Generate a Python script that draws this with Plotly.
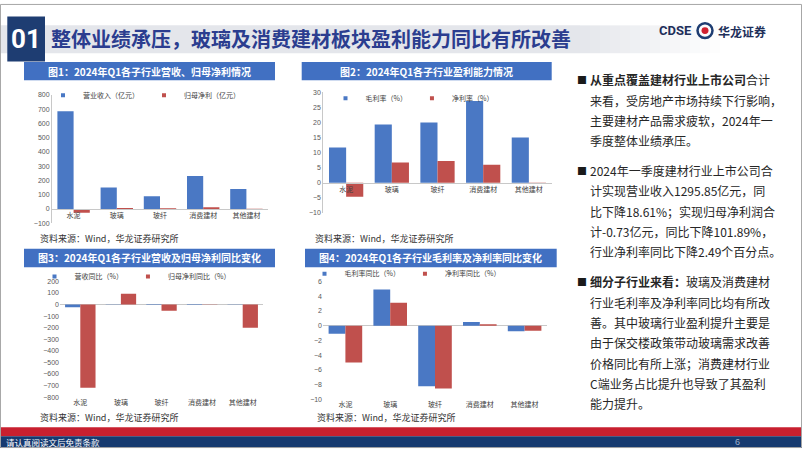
import plotly.graph_objects as go

W, H = 802, 451


def X(px):
    return px / W


def Y(py):
    return 1 - py / H


# ---------------- data ----------------
categories = ["水泥", "玻璃", "玻纤", "消费建材", "其他建材"]
revenue = [685, 150, 90, 232, 140]          # 营业收入（亿元）
net_profit = [-27, 7.5, 4.5, 12, 2.3]       # 归母净利（亿元）
gross_margin = [11.7, 19.3, 20.0, 27.1, 15.0]  # 毛利率（%）
net_margin = [-4.6, 6.7, 7.2, 6.0, -0.3]       # 净利率（%）
revenue_yoy = [-24, 2, -5, -4, -3]             # 营收同比（%）
profit_yoy = [-720, 93, -54, -3, -201]         # 归母净利同比（%）
gm_yoy = [-1.1, 4.9, -8.2, 0.5, -0.75]         # 毛利率同比（%）
nm_yoy = [-5.0, 3.1, -8.5, 0.2, -0.7]          # 净利率同比（%）

BLUE = "#4a78c4"
RED = "#c0504d"
CJK = "Noto Sans CJK SC"
NUMF = "Liberation Sans"

fig = go.Figure()

series = [
    ("x", "y", "legend", "营业收入（亿元）", revenue, BLUE),
    ("x", "y", "legend", "归母净利（亿元）", net_profit, RED),
    ("x2", "y2", "legend2", "毛利率（%）", gross_margin, BLUE),
    ("x2", "y2", "legend2", "净利率（%）", net_margin, RED),
    ("x3", "y3", "legend3", "营收同比（%）", revenue_yoy, BLUE),
    ("x3", "y3", "legend3", "归母净利同比（%）", profit_yoy, RED),
    ("x4", "y4", "legend4", "毛利率同比（%）", gm_yoy, BLUE),
    ("x4", "y4", "legend4", "净利率同比（%）", nm_yoy, RED),
]
for xa, ya, lg, name, vals, col in series:
    fig.add_trace(go.Bar(x=categories, y=vals, name=name, xaxis=xa, yaxis=ya,
                         showlegend=False, marker=dict(color=col, line=dict(width=0))))
    # small square legend key (Excel style)
    fig.add_trace(go.Scatter(x=[None], y=[None], mode="markers", name=name, xaxis=xa, yaxis=ya,
                             legend=lg, marker=dict(symbol="square", size=4, color=col)))

tickf = dict(family=NUMF, size=7, color="#595959")
catf = dict(family=CJK, size=7, color="#404040")
LINE = "#c8c8c8"


def yax(dom, rng, dt, showline, anchor):
    return dict(domain=[Y(dom[1]), Y(dom[0])], range=rng, dtick=dt, showgrid=False,
                showline=showline, linecolor=LINE, linewidth=1, ticks="",
                zeroline=not showline, zerolinecolor=LINE, zerolinewidth=1,
                tickfont=tickf, anchor=anchor, fixedrange=True)


layout_axes = dict(
    xaxis=dict(domain=[X(52), X(268)], anchor="free", position=Y(208.2), showline=True,
               linecolor=LINE, ticks="", showgrid=False, tickfont=catf),
    yaxis=yax((92.3, 222.7), [-100, 800], 100, True, "x"),
    xaxis2=dict(domain=[X(323.3), X(551.7)], anchor="free", position=Y(181.7), showline=True,
                linecolor=LINE, ticks="", showgrid=False, tickfont=catf),
    yaxis2=yax((89.7, 212.3), [-10, 30], 5, True, "x2"),
    xaxis3=dict(domain=[X(60), X(263)], anchor="y3", showline=False, ticks="",
                showgrid=False, tickfont=catf),
    yaxis3=yax((281.7, 399.3), [-800, 200], 100, False, "x3"),
    xaxis4=dict(domain=[X(323), X(547)], anchor="y4", showline=False, ticks="",
                showgrid=False, tickfont=catf),
    yaxis4=yax((281.7, 401.7), [-10, 6], 2, False, "x4"),
)

legf = dict(family=CJK, size=7, color="#404040")


def leg(x, y):
    return dict(x=X(x), y=Y(y), xref="paper", yref="paper", xanchor="center", yanchor="middle",
                orientation="h", font=legf, bgcolor="rgba(0,0,0,0)", itemwidth=30,
                itemsizing="trace", tracegroupgap=0, itemclick=False)


shapes = []


def rect(x0, y0, x1, y1, color, line=None):
    shapes.append(dict(type="rect", xref="paper", yref="paper", x0=X(x0), x1=X(x1),
                       y0=Y(y1), y1=Y(y0), fillcolor=color,
                       line=dict(width=0) if line is None else line, layer="above"))


# title band gradient
rect(0, 21.7, 580, 50, "#e4e6eb")
steps = 14
for i in range(steps):
    x0 = 580 + i * 10
    t = (i + 1) / (steps + 1)
    r = int(0xe4 + (255 - 0xe4) * t)
    g = int(0xe6 + (255 - 0xe6) * t)
    b = int(0xeb + (255 - 0xeb) * t)
    rect(x0, 21.7, x0 + 10, 50, f"rgb({r},{g},{b})")
# 01 box
rect(7.3, 12.7, 45, 58.3, "#1e3d72")
# chart title bars
TB = "#4170c2"
rect(24, 59, 275, 77.5, TB)
rect(301.7, 59, 551.7, 77.5, TB)
rect(24, 248.5, 275, 267.5, TB)
rect(305, 248.5, 556.7, 267.5, TB)
# footer
rect(0, 430, 802, 439, "#c8202f")
rect(0, 439, 802, 451, "#163a70")
# logo icon
shapes.append(dict(type="circle", xref="paper", yref="paper", x0=X(697.5), x1=X(712.5),
                   y0=Y(34.5), y1=Y(19.5), fillcolor="rgba(0,0,0,0)",
                   line=dict(color="#1e3d72", width=2.5)))
shapes.append(dict(type="circle", xref="paper", yref="paper", x0=X(701.5), x1=X(708.5),
                   y0=Y(30.5), y1=Y(23.5), fillcolor="#d0202f", line=dict(width=0)))
# slide frame
shapes.append(dict(type="rect", xref="paper", yref="paper", x0=0.0006, x1=0.9994, y0=0.001,
                   y1=0.999, fillcolor="rgba(0,0,0,0)", line=dict(color="#a6a6a6", width=1)))

ann = []


def txt(x, y, s, size=12, color="#262626", anchor="left", family=CJK):
    ann.append(dict(x=X(x), y=Y(y), xref="paper", yref="paper", text=s, showarrow=False,
                    xanchor=anchor, yanchor="middle",
                    font=dict(size=size, color=color, family=family)))


txt(26.2, 36, "<b>01</b>", size=26, color="white", anchor="center", family="Roboto")
txt(49, 35.5, "<b>整体业绩承压，玻璃及消费建材板块盈利能力同比有所改善</b>", size=20, color="#2b3d8f")
txt(675, 27, "<b>CDSE</b>", size=13, color="#1e2f5a", anchor="center", family="Roboto")
txt(741.5, 27.5, "<b>华龙证券</b>", size=12, color="#1e2f5a", anchor="center")

tt = dict(size=10, color="white", anchor="center")
txt(149.5, 68.3, "<b>图1：2024年Q1各子行业营收、归母净利情况</b>", **tt)
txt(426.7, 68.3, "<b>图2：2024年Q1各子行业盈利能力情况</b>", **tt)
txt(149.5, 258, "<b>图3：2024年Q1各子行业营收及归母净利同比变化</b>", **tt)
txt(430.8, 258, "<b>图4：2024年Q1各子行业毛利率及净利率同比变化</b>", **tt)

src = "资料来源：Wind，华龙证券研究所"
txt(38, 237.7, src, size=9, color="#333333")
txt(313, 237.7, src, size=9, color="#333333")
txt(38, 420, src, size=9, color="#333333")
txt(315, 420, src, size=9, color="#333333")

txt(4, 444.5, "请认真阅读文后免责条款", size=8.5, color="white")
txt(737, 444.5, "6", size=9, color="#9fb0cc", anchor="center", family=NUMF)

# right text
p1 = ["<b>从重点覆盖建材行业上市公司</b>合计",
      "来看，受房地产市场持续下行影响，",
      "主要建材产品需求疲软，2024年一",
      "季度整体业绩承压。"]
p2 = ["2024年一季度建材行业上市公司合",
      "计实现营业收入1295.85亿元，同",
      "比下降18.61%；实现归母净利润合",
      "计-0.73亿元，同比下降101.89%，",
      "行业净利率同比下降2.49个百分点。"]
p3 = ["<b>细分子行业来看：</b>玻璃及消费建材",
      "行业毛利率及净利率同比均有所改",
      "善。其中玻璃行业盈利提升主要是",
      "由于保交楼政策带动玻璃需求改善",
      "价格同比有所上涨；消费建材行业",
      "C端业务占比提升也导致了其盈利",
      "能力提升。"]
for start, lines in ((77, p1), (169, p2), (282, p3)):
    txt(574.5, start, "■", size=10, color="#1a1a1a")
    for i, s in enumerate(lines):
        txt(588, start + i * 20.7, s, size=12)

fig.update_layout(
    width=W, height=H, autosize=False,
    margin=dict(l=0, r=0, t=0, b=0, pad=0),
    paper_bgcolor="white", plot_bgcolor="rgba(0,0,0,0)",
    barmode="group", bargap=0.25, bargroupgap=0,
    showlegend=True,
    legend=leg(144, 92.7), legend2=leg(412, 95.7),
    legend3=leg(135, 276.7), legend4=leg(405, 274),
    shapes=shapes, annotations=ann,
    font=dict(family=CJK),
    **layout_axes,
)

fig.write_html("out.html", config=dict(displayModeBar=False, staticPlot=True),
               post_script="document.body.style.margin='0';")
